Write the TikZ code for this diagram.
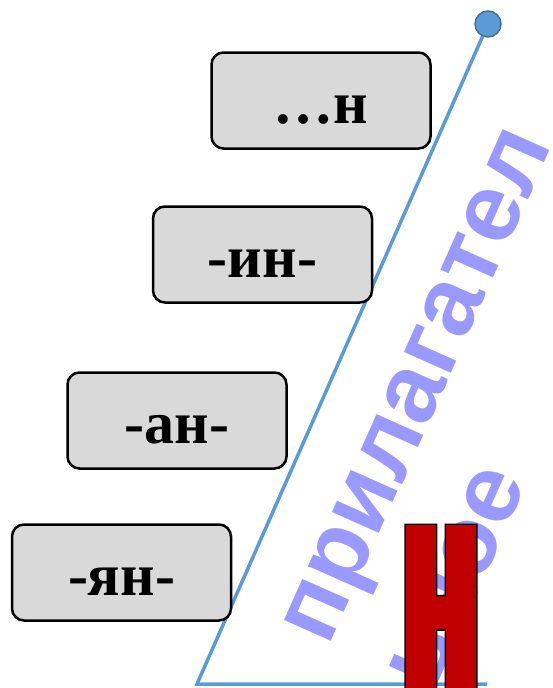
\documentclass[tikz,border=0pt]{standalone}
\usepackage{fontspec}
\setmainfont{Liberation Serif}
\newfontfamily\slantfont{Liberation Sans}
\newfontfamily\redHfont{Liberation Sans Bold}[FakeStretch=0.041,FakeBold=0.77]
\newfontfamily\blackHfont{Liberation Sans Bold}[FakeStretch=0.087,FakeBold=1.92]
\definecolor{lineBlue}{HTML}{5B9BD5}
\definecolor{dotEdge}{HTML}{41719C}
\definecolor{boxGray}{HTML}{D9D9D9}
\definecolor{labelBlue}{HTML}{9999FF}
\definecolor{letterRed}{HTML}{C00000}
\tikzset{
  suffixbox/.style={draw=black, line width=2.5pt, fill=boxGray, rounded corners=12pt,
    minimum width=219pt, minimum height=96pt, text height=46pt, text depth=0pt,
    font=\fontsize{60}{60}\selectfont\bfseries},
  slantlabel/.style={rotate=66, anchor=base west, align=left, inner sep=0pt,
    text=labelBlue, font=\slantfont\bfseries\fontsize{97}{114}\selectfont},
  hOutline/.style={anchor=base, inner sep=0pt, xscale=4, text=black,
    font=\blackHfont\fontsize{260}{260}\selectfont},
  hFace/.style={anchor=base, inner sep=0pt, xscale=8.5, text=letterRed,
    font=\redHfont\fontsize{260}{260}\selectfont}
}
\begin{document}
\begin{tikzpicture}[x=1pt,y=-1pt]
  \useasboundingbox (0,0) rectangle (552,688);
  % the slope and its foot
  \coordinate (foot) at (197,684);
  \coordinate (footEnd) at (487,684);
  \node[circle, minimum size=26pt, inner sep=0pt] (apex) at (488,24) {};
  \draw[lineBlue, line width=3.5pt] (footEnd) -- (foot) -- (apex.center);
  \node[circle, minimum size=26pt, inner sep=0pt, fill=lineBlue, draw=dotEdge, line width=1.5pt] at (apex) {};
  % suffixes
  \node[suffixbox] (sufN) at (321,100.5) {…н};
  \node[suffixbox] (sufIn) at (262.5,254.5) {-ин-};
  \node[suffixbox] (sufAn) at (177,420.5) {-ан-};
  \node[suffixbox] (sufYan) at (121.5,572.5) {-ян-};
  % the word along the slope
  \node[slantlabel] (adjWord) at (433,694) {прилагател\\ьное};
  % big letter
  \node[hOutline] (hBack) at (441,705) {Н};
  \node[hFace] (hFront) at (441,705) {Н};
\end{tikzpicture}
\end{document}
